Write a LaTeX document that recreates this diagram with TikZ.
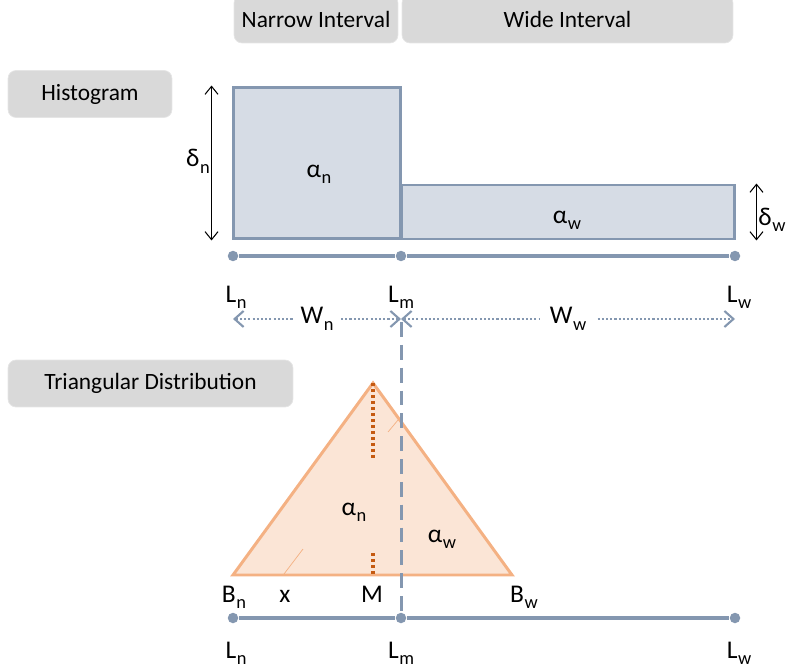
\documentclass[tikz,border=0pt]{standalone}
\usepackage{fontspec}
\setmainfont{Carlito}
\usetikzlibrary{arrows.meta,positioning}
\definecolor{barfill}{HTML}{D6DCE5}
\definecolor{slate}{HTML}{8497B0}
\definecolor{trifill}{HTML}{FBE5D6}
\definecolor{triedge}{HTML}{F4B183}
\definecolor{rust}{HTML}{C55A11}
\definecolor{tabgray}{HTML}{D9D9D9}
\newcommand{\lsub}[2]{#1\kern0.3pt\raisebox{-0.55ex}{\fontsize{10.5}{12}\selectfont #2}}
\tikzset{
  tabbox/.style={
    rectangle, rounded corners=0.16cm, fill=tabgray, draw=black!10,
    inner sep=0pt, minimum height=0.94cm, font=\fontsize{13.3}{16}\selectfont
  },
  histbar/.style={rectangle, draw=slate, fill=barfill, line width=1.7pt, inner sep=0pt},
  axisdot/.style={circle, fill=slate, inner sep=0pt, minimum size=0.21cm},
  axisline/.style={draw=slate, line width=2pt},
  lbl/.style={anchor=base, inner sep=0pt, font=\fontsize{14.5}{17}\selectfont},
  dimarrow/.style={{Straight Barb[length=1.6mm,width=2.6mm]}-{Straight Barb[length=1.6mm,width=2.6mm]}, line width=0.6pt},
  spanarrow/.style={{Straight Barb[length=1.8mm,width=3.2mm]}-{Straight Barb[length=1.8mm,width=3.2mm]},
    draw=slate, line width=1.2pt, dash pattern=on 1.2pt off 1.2pt},
  dashline/.style={draw=slate, line width=1.7pt, dash pattern=on 8.5pt off 4.5pt},
  tri/.style={fill=trifill, draw=triedge, line width=1.7pt},
  dotline/.style={draw=rust, line width=2.2pt, dash pattern=on 1.8pt off 1.6pt},
  hairline/.style={draw=triedge, line width=0.4pt},
}
\begin{document}
\begin{tikzpicture}[x=0.02cm, y=-0.02cm]
  \clip (0,0) rectangle (787,672);

  % tabs and section captions
  \node[tabbox, minimum width=3.28cm, minimum height=0.96cm] (narrowtab) at (316,19) {Narrow Interval};
  \node[tabbox, minimum width=6.62cm, minimum height=0.96cm] (widetab) at (567.5,19) {Wide Interval};
  \node[tabbox, minimum width=3.28cm] (histtab) at (90,94) {Histogram};
  \node[tabbox, minimum width=5.7cm] (tritab) at (150.5,383.5) {Triangular Distribution};

  % histogram
  \node[histbar, minimum width=3.36cm, minimum height=3.04cm] (nbar) at (317,163) {};
  \node[histbar, minimum width=6.68cm, minimum height=1.08cm] (wbar) at (568,212) {};
  \draw[dimarrow] ([xshift=-0.4cm]nbar.north west) -- ([xshift=-0.4cm]nbar.south west);
  \draw[dimarrow] ([xshift=0.4cm]wbar.north east) -- ([xshift=0.4cm]wbar.south east);
  \node[lbl] (dn) at (198,167) {\lsub{δ}{n}};
  \node[lbl] (dw) at (772,225) {\lsub{δ}{w}};
  \node[lbl] (an1) at (319,177) {\lsub{α}{n}};
  \node[lbl] (aw1) at (567,223) {\lsub{α}{w}};

  % the two axes
  \foreach \n/\x in {ln/233,lm/401,lw/735} {
    \node[axisdot] (\n1) at (\x,256) {};
    \node[axisdot] (\n2) at (\x,618) {};
  }
  \draw[axisline] (ln1) -- (lm1) -- (lw1);
  \draw[axisline] (ln2) -- (lm2) -- (lw2);
  \foreach \n/\x/\s in {ln/236/n,lm/401/m,lw/739/w} {
    \node[lbl] (\n lbl1) at (\x,302) {\lsub{L}{\s}};
    \node[lbl] (\n lbl2) at (\x,658) {\lsub{L}{\s}};
  }

  \draw[spanarrow] ([yshift=-1.26cm]ln1.center) -- ([yshift=-1.26cm]lm1.center)
    node[midway, fill=white, inner xsep=0.15cm, font=\fontsize{14.5}{17}\selectfont] (wn) {\lsub{W}{n}};
  \draw[spanarrow] ([yshift=-1.26cm]lm1.center) -- ([yshift=-1.26cm]lw1.center)
    node[midway, fill=white, inner xsep=0.2cm, font=\fontsize{14.5}{17}\selectfont] (ww) {\lsub{W}{w}};

  % triangular distribution
  \coordinate (bn) at (233,575);
  \coordinate (apex) at (373,383);
  \coordinate (bw) at (512,575);
  \coordinate (mup) at (373,460);
  \coordinate (mlow) at (373,553);
  \coordinate (m) at (373,575);
  \filldraw[tri] (bn) -- (apex) -- (bw) -- cycle;
  \draw[dotline] (apex) -- (mup);
  \draw[dotline] (mlow) -- (m);
  \draw[hairline] (284,574) -- (303,549);
  \draw[hairline] (388,432) -- (398,420);
  \draw[dashline] ([yshift=-1.32cm]lm1.center) -- (lm2);

  \node[lbl] (an2) at (354,515) {\lsub{α}{n}};
  \node[lbl] (aw2) at (442,542) {\lsub{α}{w}};
  \node[lbl] (bnlbl) at (234,602) {\lsub{B}{n}};
  \node[lbl] (xlbl) at (285,602) {x};
  \node[lbl] (mlbl) at (372,602) {M};
  \node[lbl] (bwlbl) at (524,602) {\lsub{B}{w}};
\end{tikzpicture}
\end{document}
